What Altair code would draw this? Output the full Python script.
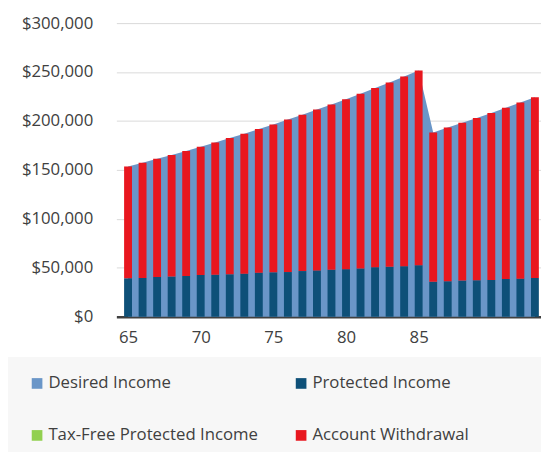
import altair as alt
import pandas as pd

ages = list(range(65, 94))
desired_income = [153500, 157300, 161300, 165300, 169400, 173700, 178000, 182500, 187000, 191700,
                  196500, 201400, 206400, 211600, 216900, 222300, 227900, 233600, 239400, 245400,
                  251500, 188200, 193200, 198100, 203100, 208200, 213400, 218800, 224300]
protected_income = [39300, 39600, 40600, 41000, 41600, 42600, 42900, 43300, 44000, 45000,
                    45300, 45600, 46600, 47300, 48000, 48600, 49300, 50600, 51000, 51600,
                    52600, 35600, 36200, 36900, 37200, 37600, 38600, 38900, 39600]
account_withdrawal = [114200, 117700, 120700, 124300, 127800, 131100, 135100, 139200, 143000, 146700,
                      151200, 155800, 159800, 164300, 168900, 173700, 178600, 183000, 188400, 193800,
                      198900, 152600, 157000, 161200, 165900, 170600, 174800, 179900, 184700]
series_names = ["Desired Income", "Protected Income", "Tax-Free Protected Income", "Account Withdrawal"]
series_colors = ["#6A96C8", "#0E5078", "#92D050", "#E8171F"]
x_ticks = [65, 70, 75, 80, 85]
y_ticks = [0, 50000, 100000, 150000, 200000, 250000, 300000]

area_df = pd.DataFrame({"age": ages, "value": desired_income, "series": "Desired Income"})
bar_df = pd.concat([
    pd.DataFrame({"age": ages, "value": protected_income, "series": "Protected Income", "order": 0}),
    pd.DataFrame({"age": ages, "value": account_withdrawal, "series": "Account Withdrawal", "order": 1}),
], ignore_index=True)

x_enc = alt.X("age:Q",
              scale=alt.Scale(domain=[64.536, 93.08], nice=False, zero=False),
              axis=alt.Axis(values=x_ticks, format="d", title=None, ticks=False, grid=False,
                            labelFontSize=17, labelColor="#404040", labelPadding=13,
                            domainColor="#404040", domainWidth=2.5))
y_enc = alt.Y("value:Q", stack="zero",
              scale=alt.Scale(domain=[0, 300000], nice=False),
              axis=alt.Axis(values=y_ticks, format="$,.0f", title=None, ticks=False, domain=False,
                            grid=True, gridColor="#D9D9D9", gridWidth=1,
                            labelFontSize=17, labelColor="#404040", labelPadding=24))
color_enc = alt.Color("series:N",
                      scale=alt.Scale(domain=series_names, range=series_colors),
                      legend=alt.Legend(orient="none", legendX=-89, legendY=357, columns=2,
                                        columnPadding=35, rowPadding=35, symbolType="square",
                                        symbolSize=117, symbolStrokeWidth=0, labelFontSize=17,
                                        labelColor="#404040", labelOffset=3, labelLimit=0,
                                        title=None, padding=0, direction="horizontal"))

bg = alt.Chart(pd.DataFrame({"k": [0]})).mark_rect(color="#F7F7F7").encode(
    x=alt.value(-110), x2=alt.value(431), y=alt.value(339), y2=alt.value(440))

area = alt.Chart(area_df).mark_area(interpolate="linear", opacity=1).encode(
    x=x_enc, y=y_enc, color=color_enc)

bars = alt.Chart(bar_df).mark_bar(size=8).encode(
    x=x_enc, y=y_enc, color=color_enc, order=alt.Order("order:Q", sort="ascending"))

chart = alt.layer(bg, area, bars).properties(
    width=431, height=298,
    autosize=alt.AutoSizeParams(type="none"),
    padding={"left": 110, "top": 12, "right": 0, "bottom": 134},
).configure(font="Open Sans").configure_view(stroke=None)

chart.save("out.html", embed_options={"renderer": "svg", "actions": False})
